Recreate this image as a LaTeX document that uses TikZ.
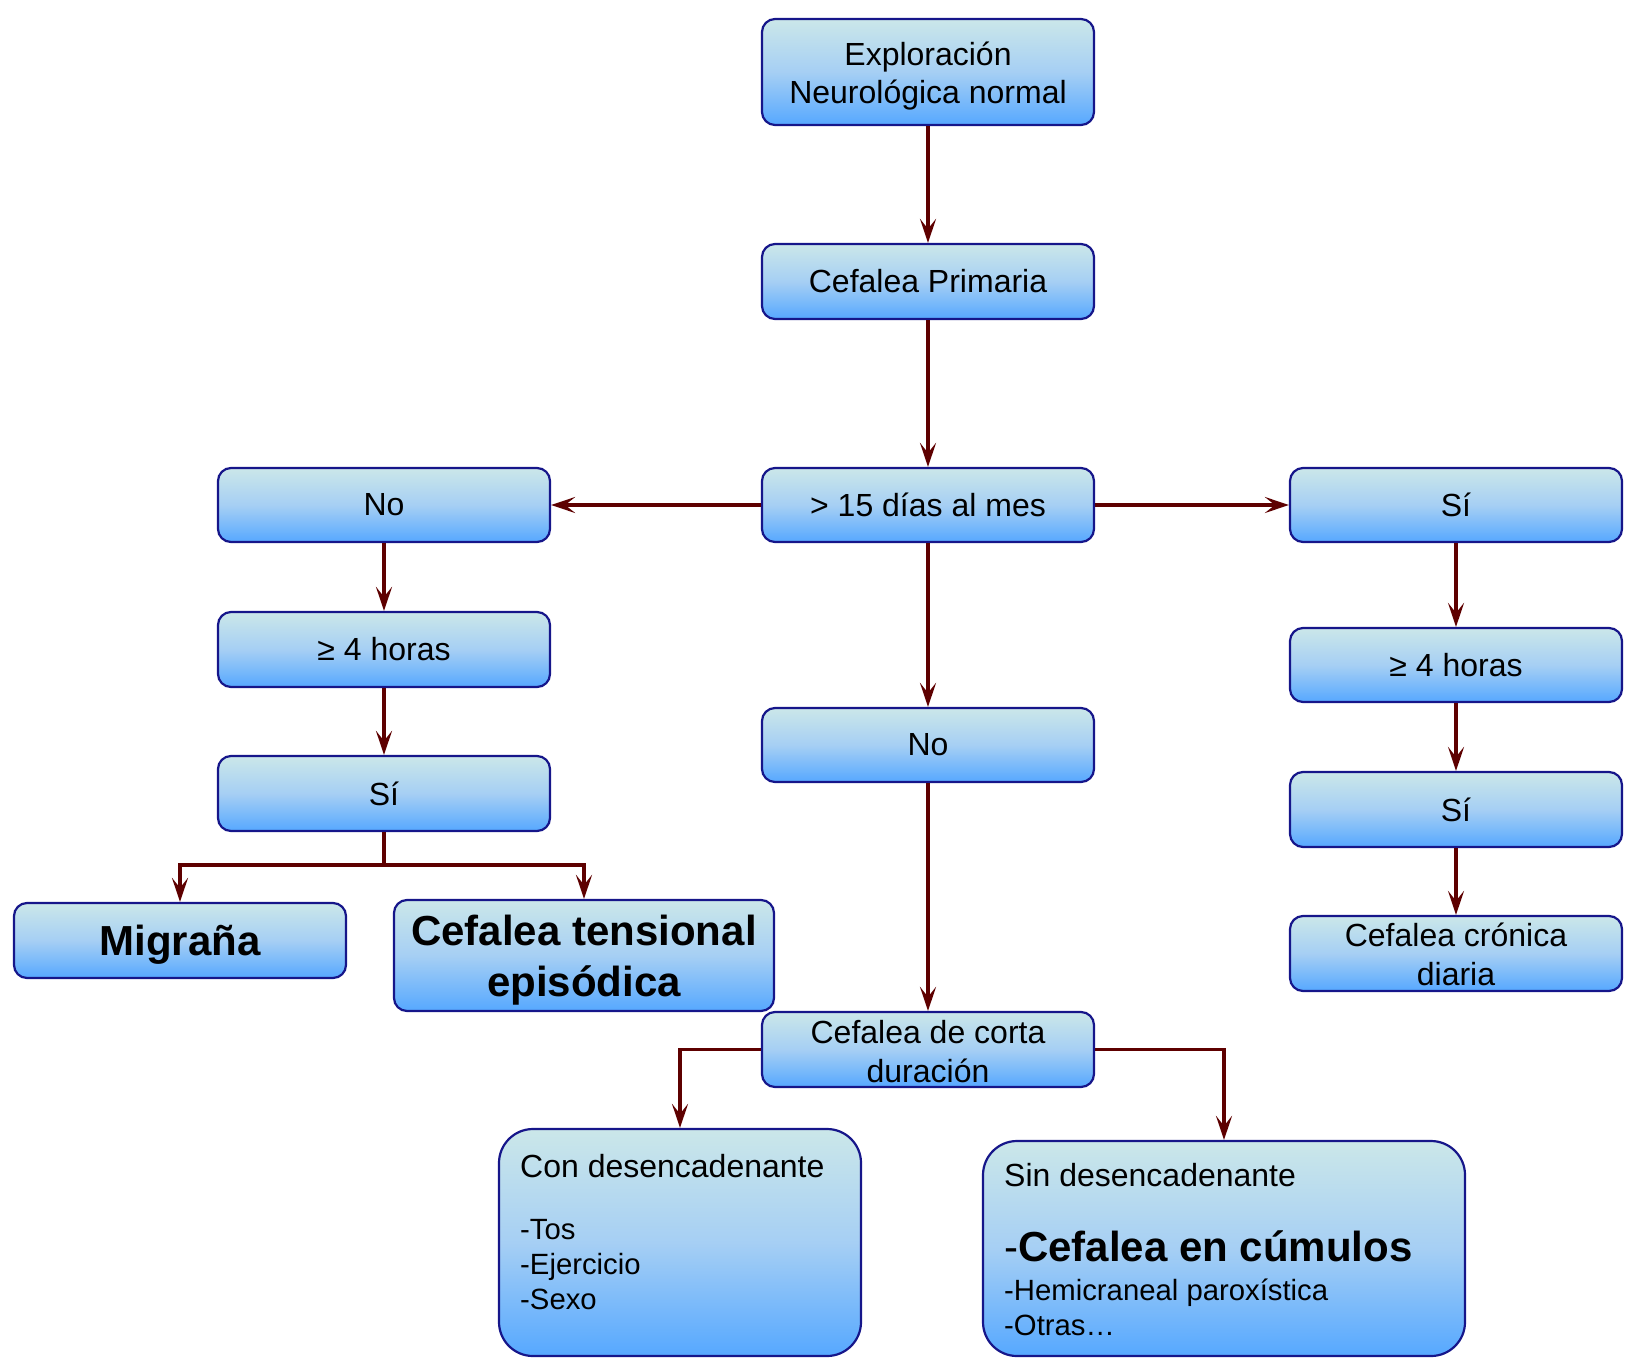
\documentclass[tikz,border=0pt]{standalone}
\usepackage{fontspec}
\setmainfont{Liberation Sans}
\usetikzlibrary{arrows.meta,calc}
\definecolor{boxline}{HTML}{16168A}
\definecolor{arrowc}{HTML}{5E0000}
\definecolor{gtop}{HTML}{CBE7E9}
\definecolor{gmid}{HTML}{A6CFF4}
\definecolor{gbot}{HTML}{56A8FF}
\tikzset{
  fbox/.style={draw=boxline, line width=2.2pt, rounded corners=13pt,
    top color=gtop, bottom color=gbot, middle color=gmid,
    inner sep=0pt, align=center, text=black,
    font=\fontsize{32}{38.5}\selectfont},
  bigbox/.style={fbox, rounded corners=34pt},
  boxtxt/.style={inner sep=0pt, align=center, font=\fontsize{32}{38.5}\selectfont},
  boldtxt/.style={inner sep=0pt, align=center, font=\fontsize{42}{51}\selectfont\bfseries},
  headtxt/.style={inner sep=0pt, anchor=base west, font=\fontsize{32}{37}\selectfont},
  itemtxt/.style={inner sep=0pt, anchor=base west, font=\fontsize{29.3}{35}\selectfont},
  conn/.style={draw=arrowc, line width=3.4pt,
    -{Stealth[length=24pt, width=16pt, inset=10pt]}},
  plain/.style={draw=arrowc, line width=3.4pt}
}
\begin{document}
\begin{tikzpicture}[x=1pt,y=-1pt]
\useasboundingbox (0,0) rectangle (1629,1367);
% centre column
\node[fbox, minimum width=332pt, minimum height=106pt] (expl) at (928,72) {};
\node[boxtxt] (explt) at (928,76) {Exploración\\Neurológica normal};
\node[fbox, minimum width=332pt, minimum height=75pt] (prim) at (928,281.5) {Cefalea Primaria};
\node[fbox, minimum width=332pt, minimum height=74pt] (dias) at (928,505) {> 15 días al mes};
\node[fbox, minimum width=332pt, minimum height=74pt] (noM) at (928,745) {No};
\node[fbox, minimum width=332pt, minimum height=75pt] (corta) at (928,1049.5) {};
\node[boxtxt] (cortat) at (928,1051.5) {Cefalea de corta\\duración};
% left column
\node[fbox, minimum width=332pt, minimum height=74pt] (noL) at (384,505) {No};
\node[fbox, minimum width=332pt, minimum height=75pt] (h4L) at (384,649.5) {≥ 4 horas};
\node[fbox, minimum width=332pt, minimum height=75pt] (siL) at (384,793.5) {Sí};
\node[fbox, minimum width=332pt, minimum height=75pt] (mig) at (180,940.5) {};
\node[boldtxt] (migt) at (180,944.5) {Migraña};
\node[fbox, minimum width=380pt, minimum height=111pt] (tens) at (584,955.5) {};
\node[boldtxt] (tenst) at (584,960.5) {Cefalea tensional\\episódica};
% right column
\node[fbox, minimum width=332pt, minimum height=74pt] (siR) at (1456,505) {Sí};
\node[fbox, minimum width=332pt, minimum height=74pt] (h4R) at (1456,665) {≥ 4 horas};
\node[fbox, minimum width=332pt, minimum height=75pt] (siR2) at (1456,809.5) {Sí};
\node[fbox, minimum width=332pt, minimum height=75pt] (cron) at (1456,953.5) {};
\node[boxtxt] (cront) at (1456,954.5) {Cefalea crónica\\diaria};
% bottom boxes
\node[bigbox, minimum width=362pt, minimum height=227pt] (con) at (680,1242.5) {};
\node[headtxt] (con1) at (520,1177) {Con desencadenante};
\node[itemtxt] (con2) at (520,1239) {-Tos};
\node[itemtxt] (con3) at (520,1274) {-Ejercicio};
\node[itemtxt] (con4) at (520,1309) {-Sexo};
\node[bigbox, minimum width=482pt, minimum height=215pt] (sin) at (1224,1248.5) {};
\node[headtxt] (sin1) at (1004,1186) {Sin desencadenante};
\node[headtxt, font=\fontsize{42}{51}\selectfont] (sin2) at (1004,1261) {-\textbf{Cefalea en cúmulos}};
\node[itemtxt] (sin3) at (1004,1300) {-Hemicraneal paroxística};
\node[itemtxt] (sin4) at (1004,1335) {-Otras…};
% junctions
\coordinate (jL) at (384,865);
% connectors
\draw[conn] (expl.south) -- (prim.north);
\draw[conn] (prim.south) -- (dias.north);
\draw[conn] (dias.west) -- (noL.east);
\draw[conn] (dias.east) -- (siR.west);
\draw[conn] (dias.south) -- (noM.north);
\draw[conn] (noM.south) -- (corta.north);
\draw[conn] (noL.south) -- (h4L.north);
\draw[conn] (h4L.south) -- (siL.north);
\draw[plain] (siL.south) -- (jL);
\draw[conn] (jL) -| (mig.north);
\draw[conn] (jL) -| (tens.north);
\draw[conn] (siR.south) -- (h4R.north);
\draw[conn] (h4R.south) -- (siR2.north);
\draw[conn] (siR2.south) -- (cron.north);
\draw[conn] (corta.west) -| (con.north);
\draw[conn] (corta.east) -| (sin.north);
\end{tikzpicture}
\end{document}
